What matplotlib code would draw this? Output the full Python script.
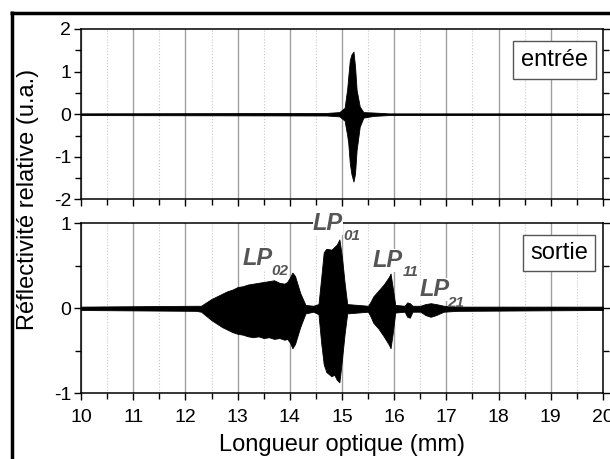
import numpy as np
import matplotlib
matplotlib.use('Agg')
import matplotlib.pyplot as plt
from matplotlib.lines import Line2D
from matplotlib.ticker import MultipleLocator

plt.rcParams['font.family'] = ['Liberation Sans', 'DejaVu Sans']
plt.rcParams['axes.unicode_minus'] = False

# Enveloppe du signal d'entrée (position en mm, bornes haute et basse)
x_entree = [10.0, 14.7, 14.95, 15.05, 15.10, 15.12, 15.15, 15.18, 15.22,
            15.25, 15.28, 15.34, 15.41, 15.6, 15.9, 20.0]
haut_entree = [0.02, 0.03, 0.05, 0.15, 0.60, 0.88, 1.27, 1.40, 1.47,
               1.12, 0.57, 0.18, 0.05, 0.04, 0.02, 0.02]
bas_entree = [-0.02, -0.03, -0.05, -0.15, -0.50, -0.68, -1.15, -1.40, -1.58,
              -1.39, -0.84, -0.29, -0.08, -0.04, -0.02, -0.02]

# Enveloppe du signal de sortie
x_sortie = [10.0, 12.2, 12.3, 12.4, 12.5, 12.6, 12.7, 12.8, 12.9, 13.0,
            13.1, 13.2, 13.3, 13.4, 13.5, 13.6, 13.7, 13.8, 13.9, 13.95,
            14.0, 14.05, 14.1, 14.2, 14.3, 14.45, 14.55, 14.6, 14.65, 14.7,
            14.8, 14.85, 14.9, 14.95, 15.0, 15.05, 15.1, 15.5, 15.55, 15.6,
            15.7, 15.8, 15.9, 15.93, 15.97, 16.02, 16.2, 16.25, 16.3, 16.35,
            16.5, 16.6, 16.7, 16.8, 16.95, 17.2, 20.0]
haut_sortie = [0.02, 0.03, 0.03, 0.07, 0.11, 0.14, 0.17, 0.20, 0.22, 0.25,
               0.26, 0.28, 0.29, 0.30, 0.31, 0.32, 0.33, 0.30, 0.29, 0.31,
               0.36, 0.42, 0.38, 0.18, 0.04, 0.03, 0.05, 0.35, 0.66, 0.70,
               0.69, 0.72, 0.75, 0.81, 0.60, 0.30, 0.05, 0.03, 0.08, 0.14,
               0.21, 0.28, 0.37, 0.41, 0.25, 0.04, 0.03, 0.07, 0.06, 0.03,
               0.03, 0.05, 0.06, 0.05, 0.03, 0.02, 0.02]
bas_sortie = [-0.02, -0.03, -0.04, -0.09, -0.14, -0.18, -0.22, -0.25, -0.28, -0.30,
              -0.31, -0.33, -0.34, -0.33, -0.35, -0.34, -0.36, -0.35, -0.37, -0.36,
              -0.40, -0.47, -0.42, -0.22, -0.06, -0.04, -0.07, -0.40, -0.66, -0.75,
              -0.80, -0.78, -0.84, -0.87, -0.60, -0.30, -0.06, -0.04, -0.10, -0.17,
              -0.24, -0.33, -0.43, -0.47, -0.30, -0.05, -0.04, -0.10, -0.11, -0.04,
              -0.04, -0.08, -0.10, -0.08, -0.04, -0.03, -0.02]

# Étiquettes des modes : (nom, indice, x, y du nom, x, y de l'indice)
modes = [('LP', '02', 13.10, 0.51, 13.64, 0.39),
         ('LP', '01', 14.44, 0.92, 15.02, 0.80),
         ('LP', '11', 15.59, 0.49, 16.17, 0.38),
         ('LP', '21', 16.48, 0.145, 17.01, 0.015)]

fig = plt.figure(figsize=(6.10, 4.59), dpi=100)
ax1 = fig.add_axes([0.1328, 0.5654, 0.8557, 0.3715])
ax2 = fig.add_axes([0.1328, 0.1431, 0.8557, 0.3704])


def habillage(ax, ymax):
    ax.set_xlim(10, 20)
    ax.set_ylim(-ymax, ymax)
    ax.xaxis.set_major_locator(MultipleLocator(1))
    ax.xaxis.set_minor_locator(MultipleLocator(0.5))
    ax.yaxis.set_major_locator(MultipleLocator(1))
    ax.yaxis.set_minor_locator(MultipleLocator(0.5))
    ax.grid(which='major', axis='x', color='#a0a0a0', lw=1.0)
    ax.grid(which='minor', axis='x', color='#c8c8c8', lw=0.8, ls=':')
    ax.set_axisbelow(True)
    ax.tick_params(which='both', direction='out', top=False, right=True,
                   labelsize=14, width=1.0, color='black')
    ax.tick_params(axis='y', pad=2)
    ax.tick_params(axis='x', pad=6)
    ax.tick_params(which='major', length=5)
    ax.tick_params(which='minor', length=4)
    for s in ax.spines.values():
        s.set_linewidth(1.1)


habillage(ax1, 2)
ax1.fill_between(x_entree, bas_entree, haut_entree, color='black', lw=0.6)
ax1.tick_params(labelbottom=False)
ax1.text(0.907, 0.817, 'entrée', transform=ax1.transAxes, fontsize=17,
         ha='center', va='center',
         bbox=dict(boxstyle='square,pad=0.33', fc='white', ec='#555555', lw=1))

habillage(ax2, 1)
ax2.fill_between(x_sortie, bas_sortie, haut_sortie, color='black', lw=0.6)
ax2.text(0.916, 0.825, 'sortie', transform=ax2.transAxes, fontsize=17,
         ha='center', va='center',
         bbox=dict(boxstyle='square,pad=0.3', fc='white', ec='#555555', lw=1))

for nom, indice, xn, yn, xi, yi in modes:
    ax2.text(xn, yn, nom, fontsize=17, fontweight='bold', fontstyle='italic',
             color='#555555', ha='left', va='baseline', clip_on=False, zorder=5,
             bbox=dict(boxstyle='square,pad=0', fc='white', ec='none'))
    ax2.text(xi, yi, indice, fontsize=11, fontweight='bold', fontstyle='italic',
             color='#555555', ha='left', va='baseline', clip_on=False, zorder=5)

ax2.set_xlabel('Longueur optique (mm)', fontsize=17, labelpad=6)
fig.text(28 / 610, 1 - 199 / 459, 'Réflectivité relative (u.a.)', fontsize=17,
         rotation=90, ha='center', va='center')

# Cadre épais à gauche et en haut
fig.add_artist(Line2D([11.5 / 610, 11.5 / 610], [0, 1 - 11 / 459],
                      color='black', lw=2.5, solid_capstyle='butt'))
fig.add_artist(Line2D([10 / 610, 1], [1 - 13 / 459, 1 - 13 / 459],
                      color='black', lw=2.5, solid_capstyle='butt'))

fig.savefig('out.png', dpi=100)
